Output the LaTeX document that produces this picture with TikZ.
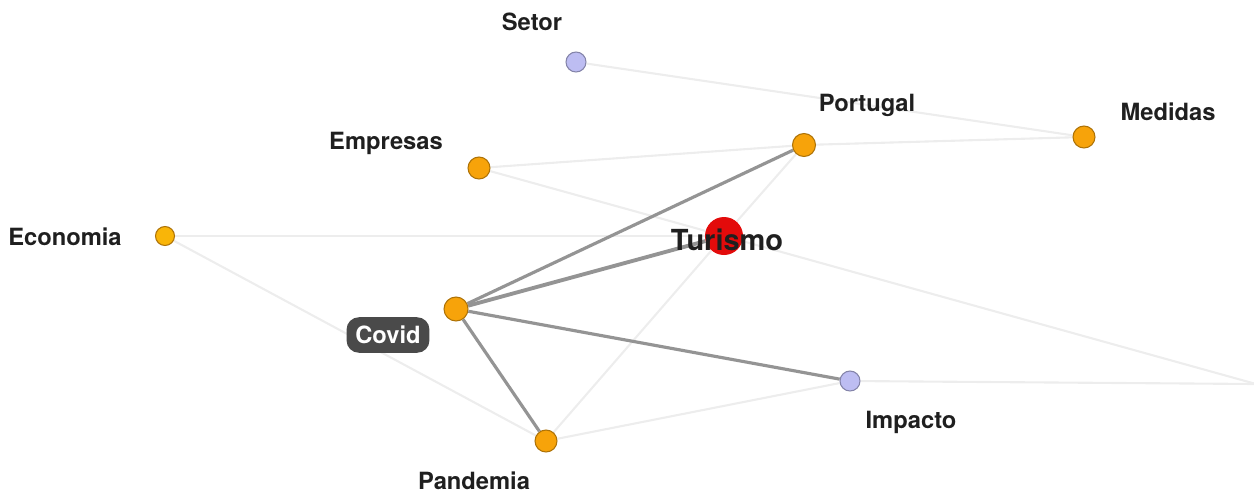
\documentclass[tikz,border=0pt]{standalone}
\usepackage{fontspec}
\setmainfont{TeX Gyre Heros}
\usetikzlibrary{positioning, backgrounds}

\definecolor{nodeorange}{HTML}{F7A30A}
\definecolor{nodelilac}{HTML}{BDBDF2}
\definecolor{nodered}{HTML}{E30B0B}
\definecolor{boxgray}{HTML}{4A4A4A}

\tikzset{
  term/.style={circle, draw=nodeorange!70!black, fill=nodeorange, line width=0.6pt, inner sep=0pt, minimum size=#1},
  term/.default=0.46cm,
  lilac/.style={circle, draw=nodelilac!70!black, fill=nodelilac, line width=0.6pt, inner sep=0pt, minimum size=0.4cm},
  hub/.style={circle, fill=nodered, inner sep=0pt, minimum size=0.76cm},
  lbl/.style={font=\fontsize{13.5}{15}\selectfont\bfseries, text=black!88, inner sep=1pt},
  tag/.style={rounded corners=7pt, fill=boxgray, text=white, font=\fontsize{13.5}{15}\selectfont\bfseries, inner xsep=5pt, inner ysep=5pt},
  weak/.style={draw=black!7, line width=1.2pt},
  strong/.style={draw=black!42, line width=1.8pt}
}

\begin{document}
\begin{tikzpicture}[x=0.02cm, y=-0.02cm]
  \useasboundingbox (0,0) rectangle (1254,495);

  % term nodes
  \node[lilac] (setor) at (576,62) {};
  \node[term] (portugal) at (804,145) {};
  \node[term=0.44cm] (medidas) at (1084,137) {};
  \node[term=0.44cm] (empresas) at (479,168) {};
  \node[term=0.38cm, fill=nodeorange!80!yellow] (economia) at (165,236) {};
  \node[hub] (turismo) at (724,236) {};
  \node[term=0.48cm] (covid) at (456,309) {};
  \node[lilac] (impacto) at (850,381) {};
  \node[term=0.44cm] (pandemia) at (546,441) {};
  \coordinate (fora) at (1256,384);

  \begin{scope}[on background layer]
  % faint links
  \draw[weak] (setor) -- (medidas);
  \draw[weak] (portugal) -- (medidas);
  \draw[weak] (empresas) -- (portugal);
  \draw[weak] (empresas) -- (turismo);
  \draw[weak] (economia) -- (turismo);
  \draw[weak] (economia) -- (pandemia);
  \draw[weak] (portugal) -- (turismo);
  \draw[weak] (turismo) -- (pandemia);
  \draw[weak] (turismo) -- (fora);
  \draw[weak] (impacto) -- (fora);
  \draw[weak] (pandemia) -- (impacto);
  % strong links
  \draw[strong] (covid) -- (portugal);
  \draw[strong, line width=2.2pt] (covid) -- (turismo);
  \draw[strong] (covid) -- (impacto);
  \draw[strong] (covid) -- (pandemia);
  \end{scope}

  % labels
  \node[lbl] (setorlbl) at (532,22) {Setor};
  \node[lbl] (portugallbl) at (867,105) {Portugal};
  \node[lbl] (medidaslbl) at (1168,112) {Medidas};
  \node[lbl] (empresaslbl) at (386,143) {Empresas};
  \node[lbl] (economialbl) at (65,237) {Economia};
  \node[lbl, font=\fontsize{16.5}{18}\selectfont\bfseries] (turismolbl) at (727,240) {Turismo};
  \node[tag] (covidlbl) at (388,335) {Covid};
  \node[lbl] (impactolbl) at (911,422) {Impacto};
  \node[lbl] (pandemialbl) at (474,481) {Pandemia};
\end{tikzpicture}
\end{document}
